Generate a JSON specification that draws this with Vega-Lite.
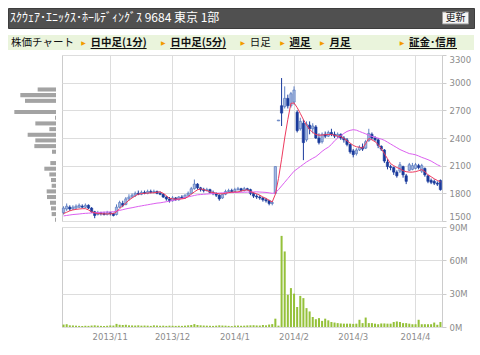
{
"$schema":"https://vega.github.io/schema/vega-lite/v6.json",
"background":"white",
"padding":{"left":7,"top":7,"right":0,"bottom":0},
"config":{"view":{"stroke":"#cccccc"},"font":"DejaVu Sans","axis":{"labelFont":"DejaVu Sans"}},
"datasets":{
"head":[{"k":"t","s":"ｽｸｳｪｱ･ｴﾆｯｸｽ･ﾎｰﾙﾃﾞｨﾝｸﾞｽ  9684  東京  1部"},{"k":"b","s":"更新"}],
"tabs":[{"t":"株価チャート","link":false,"arrow":false},{"t":"日中足(1分)","link":true,"arrow":true},{"t":"日中足(5分)","link":true,"arrow":true},{"t":"日足","link":false,"arrow":true},{"t":"週足","link":true,"arrow":true},{"t":"月足","link":true,"arrow":true},{"t":"証金･信用","link":true,"arrow":true}],
"prof":[{"lo":1492,"hi":1536,"pv":3},{"lo":1553,"hi":1597,"pv":13},{"lo":1615,"hi":1659,"pv":15},{"lo":1676,"hi":1720,"pv":18},{"lo":1738,"hi":1782,"pv":27},{"lo":1799,"hi":1843,"pv":28},{"lo":1860,"hi":1904,"pv":13},{"lo":1922,"hi":1966,"pv":15},{"lo":1983,"hi":2027,"pv":20},{"lo":2045,"hi":2089,"pv":35},{"lo":2106,"hi":2150,"pv":17},{"lo":2229,"hi":2273,"pv":12},{"lo":2290,"hi":2334,"pv":65},{"lo":2352,"hi":2396,"pv":62},{"lo":2413,"hi":2457,"pv":85},{"lo":2474,"hi":2518,"pv":20},{"lo":2536,"hi":2580,"pv":62},{"lo":2597,"hi":2641,"pv":3},{"lo":2659,"hi":2703,"pv":125},{"lo":2781,"hi":2825,"pv":93},{"lo":2843,"hi":2887,"pv":107},{"lo":2904,"hi":2948,"pv":55}],
"px":[
{"d":"2013-10-10","o":1590,"h":1660,"l":1570,"c":1640,"v":2.2,"m5":1580,"m25":1555},
{"d":"2013-10-11","o":1630,"h":1690,"l":1610,"c":1660,"v":2.5,"m5":1595,"m25":1560},
{"d":"2013-10-15","o":1650,"h":1670,"l":1610,"c":1630,"v":1.5,"m5":1610,"m25":1565},
{"d":"2013-10-16","o":1630,"h":1670,"l":1620,"c":1650,"v":1.4,"m5":1620,"m25":1570},
{"d":"2013-10-17","o":1640,"h":1680,"l":1630,"c":1660,"v":1.2,"m5":1626,"m25":1573},
{"d":"2013-10-18","o":1650,"h":1690,"l":1640,"c":1670,"v":1.0,"m5":1630,"m25":1576},
{"d":"2013-10-21","o":1660,"h":1680,"l":1640,"c":1650,"v":0.9,"m5":1633,"m25":1580},
{"d":"2013-10-22","o":1650,"h":1690,"l":1640,"c":1670,"v":1.1,"m5":1634,"m25":1583},
{"d":"2013-10-23","o":1670,"h":1680,"l":1630,"c":1640,"v":1.0,"m5":1620,"m25":1585},
{"d":"2013-10-24","o":1640,"h":1650,"l":1590,"c":1600,"v":1.3,"m5":1600,"m25":1587},
{"d":"2013-10-25","o":1600,"h":1610,"l":1530,"c":1560,"v":1.5,"m5":1588,"m25":1590},
{"d":"2013-10-28","o":1570,"h":1610,"l":1560,"c":1590,"v":1.2,"m5":1580,"m25":1592},
{"d":"2013-10-29","o":1590,"h":1600,"l":1560,"c":1580,"v":1.0,"m5":1578,"m25":1594},
{"d":"2013-10-30","o":1580,"h":1600,"l":1560,"c":1570,"v":0.9,"m5":1577,"m25":1596},
{"d":"2013-10-31","o":1570,"h":1610,"l":1560,"c":1590,"v":1.1,"m5":1577,"m25":1597},
{"d":"2013-11-01","o":1590,"h":1600,"l":1560,"c":1580,"v":1.4,"m5":1578,"m25":1598},
{"d":"2013-11-05","o":1580,"h":1590,"l":1550,"c":1560,"v":1.3,"m5":1580,"m25":1600},
{"d":"2013-11-06","o":1570,"h":1680,"l":1560,"c":1650,"v":2.8,"m5":1600,"m25":1607},
{"d":"2013-11-07","o":1650,"h":1720,"l":1640,"c":1700,"v":2.0,"m5":1634,"m25":1615},
{"d":"2013-11-08","o":1690,"h":1720,"l":1650,"c":1670,"v":1.8,"m5":1665,"m25":1623},
{"d":"2013-11-11","o":1680,"h":1760,"l":1670,"c":1740,"v":2.0,"m5":1695,"m25":1631},
{"d":"2013-11-12","o":1740,"h":1790,"l":1720,"c":1760,"v":1.5,"m5":1726,"m25":1638},
{"d":"2013-11-13","o":1760,"h":1800,"l":1750,"c":1780,"v":1.4,"m5":1750,"m25":1644},
{"d":"2013-11-14","o":1780,"h":1820,"l":1760,"c":1800,"v":1.3,"m5":1772,"m25":1651},
{"d":"2013-11-15","o":1800,"h":1830,"l":1780,"c":1790,"v":1.5,"m5":1791,"m25":1658},
{"d":"2013-11-18","o":1790,"h":1830,"l":1780,"c":1810,"v":1.2,"m5":1797,"m25":1664},
{"d":"2013-11-19","o":1810,"h":1830,"l":1790,"c":1800,"v":1.3,"m5":1800,"m25":1670},
{"d":"2013-11-20","o":1800,"h":1840,"l":1790,"c":1820,"v":1.2,"m5":1803,"m25":1676},
{"d":"2013-11-21","o":1820,"h":1840,"l":1800,"c":1810,"v":1.0,"m5":1805,"m25":1682},
{"d":"2013-11-22","o":1810,"h":1840,"l":1800,"c":1820,"v":1.5,"m5":1806,"m25":1688},
{"d":"2013-11-25","o":1820,"h":1830,"l":1790,"c":1800,"v":1.3,"m5":1812,"m25":1694},
{"d":"2013-11-26","o":1800,"h":1820,"l":1780,"c":1790,"v":1.1,"m5":1816,"m25":1697},
{"d":"2013-11-27","o":1790,"h":1800,"l":1750,"c":1760,"v":1.2,"m5":1800,"m25":1703},
{"d":"2013-11-28","o":1760,"h":1770,"l":1720,"c":1740,"v":1.0,"m5":1775,"m25":1709},
{"d":"2013-11-29","o":1740,"h":1760,"l":1700,"c":1720,"v":1.2,"m5":1745,"m25":1715},
{"d":"2013-12-02","o":1720,"h":1770,"l":1710,"c":1750,"v":1.1,"m5":1740,"m25":1722},
{"d":"2013-12-03","o":1750,"h":1760,"l":1720,"c":1730,"v":1.0,"m5":1738,"m25":1729},
{"d":"2013-12-04","o":1730,"h":1770,"l":1720,"c":1760,"v":1.1,"m5":1738,"m25":1737},
{"d":"2013-12-05","o":1760,"h":1780,"l":1740,"c":1750,"v":1.0,"m5":1740,"m25":1745},
{"d":"2013-12-06","o":1750,"h":1790,"l":1740,"c":1780,"v":1.2,"m5":1745,"m25":1753},
{"d":"2013-12-09","o":1780,"h":1820,"l":1770,"c":1800,"v":1.5,"m5":1765,"m25":1761},
{"d":"2013-12-10","o":1800,"h":1870,"l":1790,"c":1850,"v":1.8,"m5":1790,"m25":1769},
{"d":"2013-12-11","o":1850,"h":1950,"l":1840,"c":1900,"v":2.6,"m5":1816,"m25":1777},
{"d":"2013-12-12","o":1900,"h":1910,"l":1840,"c":1860,"v":1.8,"m5":1838,"m25":1784},
{"d":"2013-12-13","o":1860,"h":1870,"l":1820,"c":1840,"v":1.5,"m5":1849,"m25":1787},
{"d":"2013-12-16","o":1840,"h":1860,"l":1810,"c":1830,"v":1.3,"m5":1840,"m25":1790},
{"d":"2013-12-17","o":1830,"h":1860,"l":1820,"c":1840,"v":1.2,"m5":1830,"m25":1792},
{"d":"2013-12-18","o":1840,"h":1850,"l":1800,"c":1810,"v":1.1,"m5":1816,"m25":1795},
{"d":"2013-12-19","o":1810,"h":1830,"l":1780,"c":1800,"v":1.0,"m5":1808,"m25":1797},
{"d":"2013-12-20","o":1800,"h":1810,"l":1760,"c":1780,"v":1.2,"m5":1800,"m25":1800},
{"d":"2013-12-24","o":1780,"h":1790,"l":1720,"c":1740,"v":1.5,"m5":1795,"m25":1803},
{"d":"2013-12-25","o":1750,"h":1800,"l":1740,"c":1790,"v":1.3,"m5":1795,"m25":1805},
{"d":"2013-12-26","o":1790,"h":1840,"l":1780,"c":1820,"v":1.2,"m5":1800,"m25":1806},
{"d":"2013-12-27","o":1820,"h":1850,"l":1810,"c":1830,"v":1.0,"m5":1808,"m25":1807},
{"d":"2013-12-30","o":1830,"h":1850,"l":1810,"c":1820,"v":0.8,"m5":1812,"m25":1808},
{"d":"2014-01-06","o":1820,"h":1860,"l":1810,"c":1840,"v":1.2,"m5":1815,"m25":1809},
{"d":"2014-01-07","o":1840,"h":1870,"l":1830,"c":1850,"v":1.3,"m5":1816,"m25":1810},
{"d":"2014-01-08","o":1850,"h":1860,"l":1820,"c":1830,"v":1.1,"m5":1825,"m25":1811},
{"d":"2014-01-09","o":1830,"h":1870,"l":1820,"c":1850,"v":1.2,"m5":1832,"m25":1812},
{"d":"2014-01-10","o":1850,"h":1860,"l":1830,"c":1840,"v":1.4,"m5":1838,"m25":1813},
{"d":"2014-01-14","o":1840,"h":1850,"l":1780,"c":1800,"v":1.5,"m5":1820,"m25":1814},
{"d":"2014-01-15","o":1800,"h":1810,"l":1750,"c":1770,"v":1.6,"m5":1805,"m25":1815},
{"d":"2014-01-16","o":1770,"h":1790,"l":1740,"c":1760,"v":1.4,"m5":1795,"m25":1816},
{"d":"2014-01-17","o":1760,"h":1780,"l":1730,"c":1750,"v":1.3,"m5":1780,"m25":1814},
{"d":"2014-01-20","o":1750,"h":1760,"l":1710,"c":1730,"v":1.8,"m5":1760,"m25":1812},
{"d":"2014-01-21","o":1730,"h":1750,"l":1700,"c":1720,"v":1.5,"m5":1745,"m25":1810},
{"d":"2014-01-22","o":1720,"h":1730,"l":1670,"c":1690,"v":2.2,"m5":1725,"m25":1805},
{"d":"2014-01-23","o":1690,"h":1720,"l":1670,"c":1700,"v":2.6,"m5":1707,"m25":1800},
{"d":"2014-01-24","o":1800,"h":2090,"l":1790,"c":2090,"v":7.5,"m5":1790,"m25":1805},
{"d":"2014-01-27","o":2585,"h":2595,"l":2585,"c":2595,"v":1.2,"m5":1960,"m25":1840},
{"d":"2014-01-28","o":2750,"h":3050,"l":2530,"c":2670,"v":82,"m5":2170,"m25":1880},
{"d":"2014-01-29","o":2740,"h":2960,"l":2720,"c":2830,"v":68,"m5":2400,"m25":1920},
{"d":"2014-01-30","o":2830,"h":2870,"l":2720,"c":2750,"v":29,"m5":2600,"m25":1960},
{"d":"2014-01-31","o":2750,"h":2900,"l":2730,"c":2880,"v":35,"m5":2776,"m25":2000},
{"d":"2014-02-03","o":2790,"h":2960,"l":2760,"c":2920,"v":30,"m5":2780,"m25":2040},
{"d":"2014-02-04","o":2680,"h":2700,"l":2460,"c":2480,"v":18,"m5":2730,"m25":2065},
{"d":"2014-02-05","o":2500,"h":2620,"l":2480,"c":2580,"v":28,"m5":2667,"m25":2090},
{"d":"2014-02-06","o":2560,"h":2600,"l":2160,"c":2350,"v":26,"m5":2600,"m25":2115},
{"d":"2014-02-07","o":2380,"h":2580,"l":2360,"c":2550,"v":17,"m5":2540,"m25":2140},
{"d":"2014-02-10","o":2540,"h":2580,"l":2440,"c":2500,"v":14,"m5":2493,"m25":2160},
{"d":"2014-02-12","o":2500,"h":2560,"l":2450,"c":2530,"v":9,"m5":2460,"m25":2180},
{"d":"2014-02-13","o":2520,"h":2540,"l":2390,"c":2400,"v":7,"m5":2438,"m25":2198},
{"d":"2014-02-14","o":2400,"h":2450,"l":2330,"c":2350,"v":8,"m5":2430,"m25":2225},
{"d":"2014-02-17","o":2360,"h":2460,"l":2340,"c":2440,"v":5.5,"m5":2432,"m25":2255},
{"d":"2014-02-18","o":2440,"h":2470,"l":2400,"c":2420,"v":7.5,"m5":2436,"m25":2280},
{"d":"2014-02-19","o":2420,"h":2480,"l":2410,"c":2460,"v":6,"m5":2438,"m25":2300},
{"d":"2014-02-20","o":2460,"h":2500,"l":2420,"c":2440,"v":4.5,"m5":2438,"m25":2330},
{"d":"2014-02-21","o":2440,"h":2470,"l":2400,"c":2420,"v":4,"m5":2430,"m25":2370},
{"d":"2014-02-24","o":2420,"h":2460,"l":2400,"c":2440,"v":3.5,"m5":2420,"m25":2398},
{"d":"2014-02-25","o":2440,"h":2450,"l":2380,"c":2400,"v":3.2,"m5":2416,"m25":2425},
{"d":"2014-02-26","o":2400,"h":2420,"l":2350,"c":2380,"v":3,"m5":2395,"m25":2450},
{"d":"2014-02-27","o":2380,"h":2400,"l":2310,"c":2330,"v":3,"m5":2370,"m25":2471},
{"d":"2014-02-28","o":2330,"h":2340,"l":2230,"c":2250,"v":3,"m5":2345,"m25":2483},
{"d":"2014-03-03","o":2260,"h":2280,"l":2190,"c":2220,"v":2.8,"m5":2320,"m25":2490},
{"d":"2014-03-04","o":2230,"h":2290,"l":2210,"c":2270,"v":3,"m5":2305,"m25":2485},
{"d":"2014-03-05","o":2270,"h":2320,"l":2260,"c":2300,"v":6.5,"m5":2300,"m25":2471},
{"d":"2014-03-06","o":2300,"h":2340,"l":2260,"c":2280,"v":3.5,"m5":2290,"m25":2458},
{"d":"2014-03-07","o":2290,"h":2380,"l":2280,"c":2360,"v":8.5,"m5":2340,"m25":2445},
{"d":"2014-03-10","o":2370,"h":2500,"l":2360,"c":2450,"v":3.5,"m5":2395,"m25":2430},
{"d":"2014-03-11","o":2440,"h":2460,"l":2380,"c":2400,"v":3.5,"m5":2380,"m25":2418},
{"d":"2014-03-12","o":2400,"h":2420,"l":2360,"c":2380,"v":3,"m5":2360,"m25":2408},
{"d":"2014-03-13","o":2380,"h":2400,"l":2290,"c":2320,"v":2.5,"m5":2330,"m25":2398},
{"d":"2014-03-14","o":2310,"h":2320,"l":2260,"c":2280,"v":3.2,"m5":2285,"m25":2388},
{"d":"2014-03-17","o":2270,"h":2280,"l":2130,"c":2150,"v":3.2,"m5":2231,"m25":2375},
{"d":"2014-03-18","o":2140,"h":2170,"l":2060,"c":2090,"v":3,"m5":2175,"m25":2355},
{"d":"2014-03-19","o":2090,"h":2110,"l":2050,"c":2080,"v":3,"m5":2122,"m25":2335},
{"d":"2014-03-20","o":2080,"h":2090,"l":2000,"c":2030,"v":4.5,"m5":2100,"m25":2315},
{"d":"2014-03-24","o":2030,"h":2050,"l":1970,"c":1990,"v":5,"m5":2080,"m25":2295},
{"d":"2014-03-25","o":2040,"h":2140,"l":2020,"c":2110,"v":4.5,"m5":2067,"m25":2275},
{"d":"2014-03-26","o":2090,"h":2100,"l":1970,"c":2000,"v":3.5,"m5":2045,"m25":2260},
{"d":"2014-03-27","o":1990,"h":2010,"l":1900,"c":1930,"v":3.5,"m5":2035,"m25":2245},
{"d":"2014-03-28","o":2050,"h":2130,"l":2040,"c":2110,"v":3,"m5":2030,"m25":2231},
{"d":"2014-03-31","o":2060,"h":2130,"l":2050,"c":2100,"v":2.5,"m5":2030,"m25":2225},
{"d":"2014-04-01","o":2070,"h":2130,"l":2060,"c":2110,"v":2.5,"m5":2035,"m25":2218},
{"d":"2014-04-02","o":2100,"h":2120,"l":2060,"c":2080,"v":6.5,"m5":2045,"m25":2205},
{"d":"2014-04-03","o":2040,"h":2120,"l":2020,"c":2100,"v":2.5,"m5":2057,"m25":2190},
{"d":"2014-04-04","o":2070,"h":2080,"l":1980,"c":2000,"v":2.5,"m5":2035,"m25":2178},
{"d":"2014-04-07","o":1990,"h":2000,"l":1910,"c":1930,"v":2.5,"m5":2002,"m25":2165},
{"d":"2014-04-08","o":1940,"h":1960,"l":1900,"c":1920,"v":2.5,"m5":1980,"m25":2150},
{"d":"2014-04-09","o":1930,"h":1950,"l":1890,"c":1910,"v":4,"m5":1958,"m25":2130},
{"d":"2014-04-10","o":1910,"h":1930,"l":1880,"c":1900,"v":2,"m5":1940,"m25":2110},
{"d":"2014-04-11","o":1940,"h":1950,"l":1830,"c":1840,"v":4.5,"m5":1925,"m25":2095}
]},
"vconcat":[
{"vconcat":[
 {"width":466,"height":20,"view":{"fill":"#505050","stroke":"#3d3d3d"},
  "data":{"name":"head"},
  "encoding":{"x":{"field":"k","type":"nominal","scale":{"type":"point","domain":["t","b"],"range":[2,447.5],"padding":0},"axis":null}},
  "layer":[
   {"transform":[{"filter":"datum.k == 't'"}],"mark":{"type":"text","align":"left","baseline":"middle","font":"Noto Sans CJK JP","fontSize":12,"color":"#ffffff"},"encoding":{"text":{"field":"s"}}},
   {"transform":[{"filter":"datum.k == 'b'"}],"mark":{"type":"point","shape":"M-1,-0.46H1V0.46H-1Z","size":676,"filled":true,"fill":"#f4f4f4","stroke":"#999999","strokeWidth":1,"opacity":1}},
   {"transform":[{"filter":"datum.k == 'b'"}],"mark":{"type":"text","baseline":"middle","font":"Noto Sans CJK JP","fontSize":10,"color":"#222222"},"encoding":{"text":{"field":"s"}}}
  ]},
 {"width":466,"height":15,"view":{"fill":"#eaf4dc","stroke":null},
  "data":{"name":"tabs"},
  "encoding":{"x":{"field":"t","type":"nominal","scale":{"type":"point","domain":["株価チャート","_a","日中足(1分)","_b","日中足(5分)","_c","日足","週足","月足","_d","証金･信用"],"range":[3,401],"padding":0},"axis":null}},
  "layer":[
   {"transform":[{"filter":"datum.arrow"}],"mark":{"type":"text","text":"▶","fontSize":6,"color":"#f29b00","dx":-7,"baseline":"middle"}},
   {"transform":[{"filter":"!datum.link"}],"mark":{"type":"text","align":"left","baseline":"middle","font":"Noto Sans CJK JP","fontSize":10.5,"color":"#111111"},"encoding":{"text":{"field":"t"}}},
   {"transform":[{"filter":"datum.link"}],"mark":{"type":"text","align":"left","baseline":"middle","font":"Noto Sans CJK JP","fontSize":10.5,"fontWeight":"bold","color":"#111111"},"encoding":{"text":{"field":"t"}}},
   {"transform":[{"filter":"indexof(datum.t,'日中足') == 0"}],"mark":{"type":"rule","color":"#111111","strokeWidth":1,"yOffset":6,"x2Offset":56},"encoding":{"x2":{"field":"t"}}},
   {"transform":[{"filter":"datum.t == '週足' || datum.t == '月足'"}],"mark":{"type":"rule","color":"#111111","strokeWidth":1,"yOffset":6,"x2Offset":22},"encoding":{"x2":{"field":"t"}}},
   {"transform":[{"filter":"datum.t == '証金･信用'"}],"mark":{"type":"rule","color":"#111111","strokeWidth":1,"yOffset":6,"x2Offset":48},"encoding":{"x2":{"field":"t"}}}
  ]}
],"spacing":7,"bounds":"flush"},
{"hconcat":[
 {"width":48,"height":166,"view":{"stroke":null},"data":{"name":"prof"},
  "mark":{"type":"bar","color":"#a3a3a3"},
  "encoding":{
   "x":{"field":"pv","type":"quantitative","scale":{"domain":[0,144],"reverse":true,"nice":false},"axis":null},
   "x2":{"datum":0},
   "y":{"field":"lo","type":"quantitative","scale":{"domain":[1500,3300],"nice":false,"zero":false},"axis":null},
   "y2":{"field":"hi"}}},
 {"vconcat":[
  {"width":380,"height":166,"data":{"name":"px"},
   "encoding":{"x":{"field":"d","type":"ordinal","scale":{"paddingInner":0,"paddingOuter":0},
     "axis":{"values":["2013-11-01","2013-12-02","2014-01-06","2014-02-03","2014-03-03","2014-04-01"],"labels":false,"ticks":false,"domain":false,"grid":true,"gridColor":"#dddddd","bandPosition":0.5,"title":null}}},
   "layer":[
    {"mark":{"type":"rule","strokeWidth":1},
     "encoding":{"y":{"field":"l","type":"quantitative","scale":{"domain":[1500,3300],"nice":false,"zero":false},
       "axis":{"orient":"right","values":[1500,1800,2100,2400,2700,3000,3300],"format":"d","labelOverlap":false,"labelFlush":true,"grid":true,"gridColor":"#dddddd","domain":false,"tickColor":"#cccccc","tickSize":4,"labelColor":"#8c8c8c","labelFontSize":8.5,"labelPadding":3,"title":null}},
      "y2":{"field":"h"},
      "color":{"condition":{"test":"datum.c >= datum.o","value":"#5d7fc4"},"value":"#1a3a9c"}}},
    {"mark":{"type":"bar","width":{"band":0.75},"strokeWidth":0.6},
     "encoding":{"y":{"field":"o","type":"quantitative","axis":{"orient":"right","values":[1500,1800,2100,2400,2700,3000,3300],"format":"d","labelOverlap":false,"labelFlush":true,"grid":true,"gridColor":"#dddddd","domain":false,"tickColor":"#cccccc","tickSize":4,"labelColor":"#8c8c8c","labelFontSize":8.5,"labelPadding":3,"title":null}},"y2":{"field":"c"},
      "fill":{"condition":{"test":"datum.c >= datum.o","value":"#a2b6df"},"value":"#1a3a9c"},
      "stroke":{"condition":{"test":"datum.c >= datum.o","value":"#4d6fb8"},"value":"#1a3a9c"}}},
    {"mark":{"type":"line","color":"#dc5ff0","strokeWidth":1},"encoding":{"y":{"field":"m25","type":"quantitative","axis":{"orient":"right","values":[1500,1800,2100,2400,2700,3000,3300],"format":"d","labelOverlap":false,"labelFlush":true,"grid":true,"gridColor":"#dddddd","domain":false,"tickColor":"#cccccc","tickSize":4,"labelColor":"#8c8c8c","labelFontSize":8.5,"labelPadding":3,"title":null}}}},
    {"mark":{"type":"line","color":"#ee3a5e","strokeWidth":1},"encoding":{"y":{"field":"m5","type":"quantitative","axis":{"orient":"right","values":[1500,1800,2100,2400,2700,3000,3300],"format":"d","labelOverlap":false,"labelFlush":true,"grid":true,"gridColor":"#dddddd","domain":false,"tickColor":"#cccccc","tickSize":4,"labelColor":"#8c8c8c","labelFontSize":8.5,"labelPadding":3,"title":null}}}}
   ]},
  {"width":380,"height":100,"data":{"name":"px"},
   "mark":{"type":"bar","width":{"band":0.65},"color":"#95c13a"},
   "encoding":{
    "x":{"field":"d","type":"ordinal","scale":{"paddingInner":0,"paddingOuter":0},
     "axis":{"values":["2013-11-01","2013-12-02","2014-01-06","2014-02-03","2014-03-03","2014-04-01"],"labelExpr":"slice(datum.value,0,4) + '/' + toNumber(slice(datum.value,5,7))","labelAngle":0,"labelColor":"#8c8c8c","labelFontSize":8.5,"labelPadding":5,"ticks":false,"domain":false,"grid":true,"gridColor":"#dddddd","bandPosition":0.5,"title":null}},
    "y":{"field":"v","type":"quantitative","scale":{"domain":[0,90],"nice":false},
     "axis":{"orient":"right","values":[0,30,60,90],"labelExpr":"datum.value + 'M'","labelOverlap":false,"grid":true,"gridColor":"#dddddd","domain":false,"tickColor":"#cccccc","tickSize":4,"labelColor":"#8c8c8c","labelFontSize":8.5,"labelPadding":3,"title":null}}}}
 ],"spacing":6,"bounds":"flush"}
],"spacing":5}
],"spacing":4
}
